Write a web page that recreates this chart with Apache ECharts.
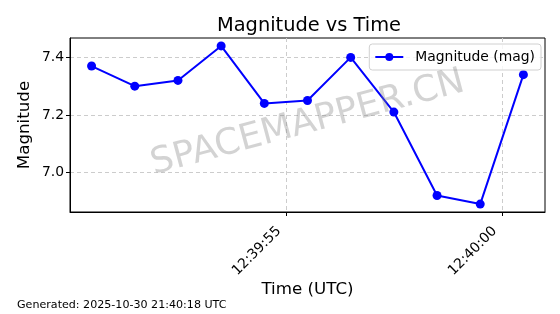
<!DOCTYPE html>
<html>
<head>
<meta charset="utf-8">
<script src="https://cdn.jsdelivr.net/npm/echarts@6/dist/echarts.min.js"></script>
<style>html,body{margin:0;padding:0;background:#fff}#c{width:560px;height:314px}</style>
</head>
<body>
<div id="c"></div>
<script>
const times = ['12:39:50.5','12:39:51.5','12:39:52.5','12:39:53.5','12:39:54.5','12:39:55.5','12:39:56.5','12:39:57.5','12:39:58.5','12:39:59.5','12:40:00.5'];
const magnitudes = [7.37, 7.30, 7.32, 7.44, 7.24, 7.25, 7.40, 7.21, 6.92, 6.89, 7.34];
const xTickLabels = ['12:39:55', '12:40:00'];
const yTicks = [7.0, 7.2, 7.4];
const xRange = ['12:39:50', '12:40:01'];
const yRange = [6.8625, 7.4675];

function toSec(t) { const p = t.split(':'); return (+p[0]) * 3600 + (+p[1]) * 60 + parseFloat(p[2]); }
function fmt(s) {
  s = Math.round(s);
  const h = Math.floor(s / 3600), m = Math.floor((s % 3600) / 60), ss = s % 60;
  const z = n => (n < 10 ? '0' : '') + n;
  return z(h) + ':' + z(m) + ':' + z(ss);
}
const data = times.map((t, i) => [toSec(t), magnitudes[i]]);
const FONT = 'DejaVu Sans';

const chart = echarts.init(document.getElementById('c'), null, { renderer: 'canvas' });
chart.setOption({
  animation: false,
  textStyle: { fontFamily: FONT },
  title: {
    text: 'Magnitude vs Time', left: 304, top: 11, textAlign: 'center',
    textStyle: { fontFamily: FONT, fontSize: 19.4, fontWeight: 'normal', color: '#000' }
  },
  grid: { left: 70, right: 15, top: 38, bottom: 102, show: true, borderColor: '#000', borderWidth: 1, containLabel: false },
  legend: {
    right: 19, top: 44, orient: 'horizontal',
    itemWidth: 28, itemHeight: 10, itemGap: 8,
    padding: [6, 6, 6, 5],
    backgroundColor: 'rgba(255,255,255,0.8)', borderColor: '#d0d0d0', borderWidth: 1, borderRadius: 3,
    textStyle: { fontFamily: FONT, fontSize: 13.9, color: '#000', padding: [0, 0, 0, 7] },
    data: ['Magnitude (mag)']
  },
  xAxis: {
    type: 'value', min: toSec(xRange[0]), max: toSec(xRange[1]),
    name: 'Time (UTC)', nameLocation: 'middle', nameGap: 69, nameMoveOverlap: false,
    nameTextStyle: { fontFamily: FONT, fontSize: 16.7, color: '#000' },
    axisLine: { show: true, onZero: false, lineStyle: { color: '#000', width: 1 } },
    axisTick: { show: true, length: 4, lineStyle: { color: '#000' }, customValues: xTickLabels.map(toSec) },
    axisLabel: {
      rotate: 45, fontFamily: FONT, fontSize: 13.9, color: '#000', margin: 10, padding: [0, 10, 0, 0],
      customValues: xTickLabels.map(toSec), formatter: v => fmt(v)
    },
    splitLine: { show: true, lineStyle: { color: '#cccccc', type: [4, 3], width: 1 } }
  },
  yAxis: {
    type: 'value', min: yRange[0], max: yRange[1],
    name: 'Magnitude', nameLocation: 'middle', nameGap: 37, nameMoveOverlap: false,
    nameTextStyle: { fontFamily: FONT, fontSize: 16.7, color: '#000' },
    axisLine: { show: true, lineStyle: { color: '#000', width: 1 } },
    axisTick: { show: true, length: 4, lineStyle: { color: '#000' }, customValues: yTicks },
    axisLabel: {
      fontFamily: FONT, fontSize: 13.9, color: '#000', margin: 6,
      customValues: yTicks, formatter: v => v.toFixed(1)
    },
    splitLine: { show: true, lineStyle: { color: '#cccccc', type: [4, 3], width: 1 } }
  },
  graphic: [
    {
      type: 'text', left: 147, top: 64, rotation: 15 * Math.PI / 180, z: 100,
      style: { text: 'SPACEMAPPER.CN', font: '36px "DejaVu Sans"', fill: 'rgba(128,128,128,0.35)' }
    },
    {
      type: 'text', left: 17, top: 300,
      style: { text: 'Generated: 2025-10-30 21:40:18 UTC', font: '11.1px "DejaVu Sans"', fill: '#000' }
    }
  ],
  series: [{
    name: 'Magnitude (mag)', type: 'line', data: data,
    symbol: 'circle', symbolSize: 9,
    lineStyle: { color: '#0000ff', width: 2 },
    itemStyle: { color: '#0000ff' }
  }]
});
</script>
</body>
</html>
